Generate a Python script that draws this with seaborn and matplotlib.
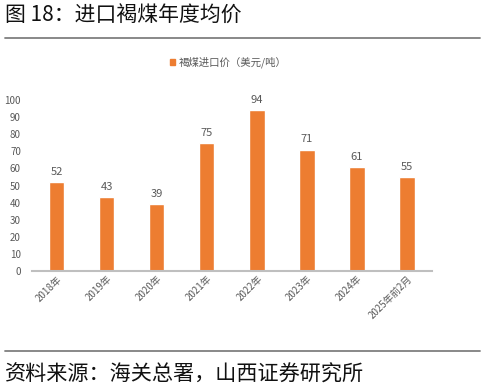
import matplotlib
matplotlib.use("Agg")
import matplotlib.pyplot as plt
import seaborn as sns
import pandas as pd
from matplotlib.lines import Line2D
from matplotlib.patches import Patch

categories = ["2018年", "2019年", "2020年", "2021年", "2022年", "2023年", "2024年", "2025年前2月"]
values = [52, 43, 39, 75, 94, 71, 61, 55]
series_name = "褐煤进口价（美元/吨）"
title = "图 18：进口褐煤年度均价"
source = "资料来源：海关总署，山西证券研究所"

sns.set_theme(style="white")
plt.rcParams['font.family'] = ['Noto Sans CJK SC', 'DejaVu Sans']

W, H = 485, 392
fig = plt.figure(figsize=(W / 100, H / 100), dpi=100)

df = pd.DataFrame({"cat": categories, "val": values})
ax = fig.add_axes([32 / W, 1 - 271 / H, 400 / W, 171 / H])
sns.barplot(data=df, x="cat", y="val", color="#ED7D31", saturation=1, width=0.3, ax=ax)
ax.set_xlim(-0.5, len(categories) - 0.5)
ax.set_ylim(0, 100)
ax.set_yticks(range(0, 101, 10))
ax.set_xlabel("")
ax.set_ylabel("")
for s in ["top", "right", "left"]:
    ax.spines[s].set_visible(False)
ax.spines["bottom"].set_color("#BFBFBF")
ax.spines["bottom"].set_linewidth(1.5)
ax.tick_params(axis="y", length=0, labelsize=7, labelcolor="#595959", pad=8)
ax.tick_params(axis="x", length=0, labelsize=7, labelcolor="#595959", pad=2)
for lab in ax.get_xticklabels():
    lab.set_rotation(45)
    lab.set_ha("right")
    lab.set_rotation_mode("anchor")
for p, v in zip(ax.patches, values):
    ax.text(p.get_x() + p.get_width() / 2, v + 3, str(v), ha="center", va="bottom",
            fontsize=8, color="#595959")

# title
fig.text(5 / W, 1 - 16 / H, title, fontsize=15, ha="left", va="center", color="#111111")
fig.add_artist(Line2D([5 / W, 480 / W], [1 - 38 / H, 1 - 38 / H], color="#7F7F7F", lw=1.3))
# legend
fig.legend(handles=[Patch(color="#ED7D31", label=series_name)], loc="center",
           bbox_to_anchor=(228 / W, 1 - 62 / H), frameon=False, fontsize=7.5,
           handlelength=0.5, handleheight=0.5, handletextpad=0.3, labelcolor="#595959")
# bottom
fig.add_artist(Line2D([5 / W, 480 / W], [1 - 351 / H, 1 - 351 / H], color="#7F7F7F", lw=1.3))
fig.text(5 / W, 1 - 375 / H, source, fontsize=15.2, ha="left", va="center", color="#111111")

fig.savefig("out.png", dpi=100)
